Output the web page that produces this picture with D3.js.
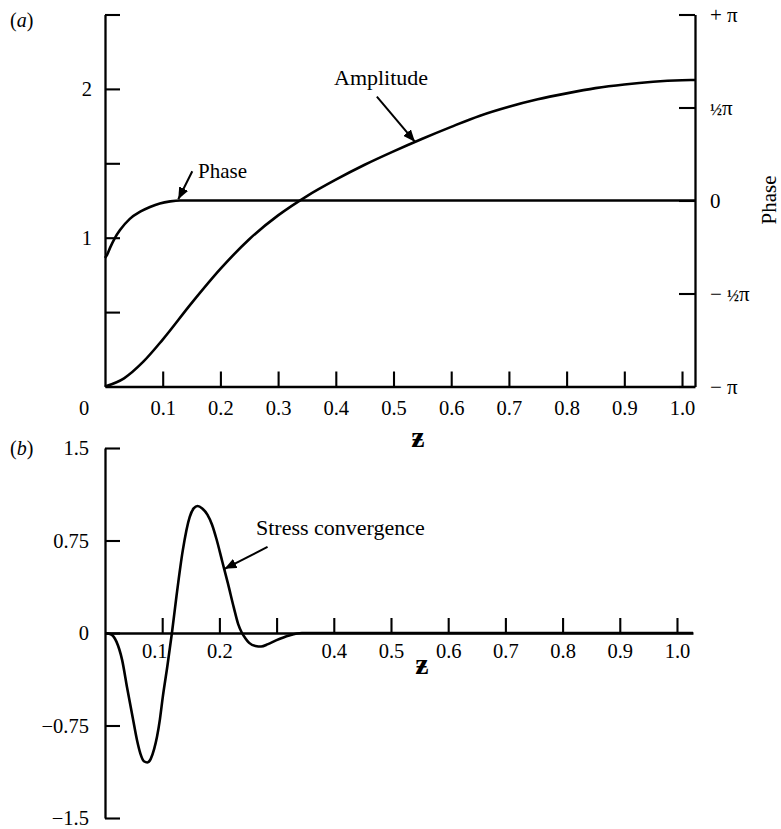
<!DOCTYPE html>
<html><head><meta charset="utf-8">
<script src="https://cdn.jsdelivr.net/npm/d3@7"></script>
<style>
body{margin:0;background:#fff}
svg{display:block;background:#fff}
text{font-family:"Liberation Serif","Times New Roman",serif;fill:#000}
</style>
</head><body>
<svg id="c" width="781" height="829"></svg>
<script>
// ---------- data ----------
const zAmp = [0, 0.033, 0.066, 0.1, 0.15, 0.2, 0.25, 0.3, 0.35, 0.4, 0.45, 0.5, 0.55, 0.6, 0.65, 0.7, 0.75, 0.8, 0.85, 0.9, 0.95, 1.0, 1.0225];
const amplitude = [0, 0.055, 0.165, 0.315, 0.56, 0.79, 0.99, 1.15, 1.28, 1.39, 1.49, 1.58, 1.665, 1.745, 1.82, 1.88, 1.93, 1.97, 2.005, 2.03, 2.048, 2.058, 2.06];

const zPhase = [0, 0.0035, 0.0087, 0.0173, 0.026, 0.043, 0.061, 0.078, 0.095, 0.113, 0.13, 0.5, 1.0225];
const phase = [-0.97, -0.92, -0.80, -0.63, -0.50, -0.31, -0.19, -0.11, -0.05, -0.015, 0, 0, 0];

const zStress = [0, 0.01, 0.02, 0.03, 0.0385, 0.049, 0.056, 0.062, 0.068, 0.074, 0.08, 0.086, 0.091, 0.096, 0.101, 0.109, 0.117, 0.125, 0.136, 0.148, 0.155, 0.162, 0.17, 0.179, 0.187, 0.195, 0.205, 0.215, 0.225, 0.233, 0.2395, 0.245, 0.252, 0.263, 0.273, 0.285, 0.299, 0.322, 0.344, 0.4, 1.028];
const stress = [0, -0.01, -0.07, -0.22, -0.44, -0.70, -0.87, -0.98, -1.04, -1.05, -1.02, -0.94, -0.84, -0.70, -0.52, -0.27, 0, 0.30, 0.67, 0.94, 1.01, 1.03, 1.01, 0.96, 0.88, 0.76, 0.58, 0.40, 0.21, 0.07, 0, -0.04, -0.08, -0.105, -0.11, -0.09, -0.06, -0.02, 0, 0, 0];

const xTicksA = [0.1, 0.2, 0.3, 0.4, 0.5, 0.6, 0.7, 0.8, 0.9, 1.0];
const xTickLabelsA = ["0.1", "0.2", "0.3", "0.4", "0.5", "0.6", "0.7", "0.8", "0.9", "1.0"];
const ampTicks = [0.5, 1, 1.5, 2, 2.5];
const ampTickLabels = ["", "1", "", "2", ""];
const phaseTicks = [-Math.PI, -Math.PI / 2, 0, Math.PI / 2, Math.PI];
const phaseTickLabels = ["−π", "−½π", "0", "½π", "+π"];
const xTicksB = [0.1, 0.2, 0.3, 0.4, 0.5, 0.6, 0.7, 0.8, 0.9, 1.0];
const xTickLabelsB = ["0.1", "0.2", "", "0.4", "0.5", "0.6", "0.7", "0.8", "0.9", "1.0"];
const stressTicks = [-1.5, -0.75, 0, 0.75, 1.5];
const stressTickLabels = ["−1.5", "−0.75", "0", "0.75", "1.5"];

// ---------- setup ----------
const svg = d3.select("#c");
const FONT = '"Liberation Serif","Times New Roman",serif';
const TICKFS = 20.5;

svg.append("defs").append("marker")
  .attr("id", "ah").attr("viewBox", "0 0 12 10").attr("refX", 12).attr("refY", 5)
  .attr("markerWidth", 12).attr("markerHeight", 10).attr("markerUnits", "userSpaceOnUse")
  .attr("orient", "auto")
  .append("path").attr("d", "M0,0 L12,5 L0,10 Z").attr("fill", "#000");

const xA = d3.scaleLinear().domain([0, 1.0225]).range([105, 695]);
const yAmp = d3.scaleLinear().domain([0, 2.5]).range([386.5, 14.5]);
const yPh = d3.scaleLinear().domain([-Math.PI, Math.PI]).range([386.5, 14.5]);
const xB = d3.scaleLinear().domain([0, 1.028]).range([105, 693]);
const yB = d3.scaleLinear().domain([-1.5, 1.5]).range([818, 448]);

function styleAxis(g, fs) {
  g.attr("font-family", FONT).attr("font-size", fs);
  g.select(".domain").attr("stroke", "#000").attr("stroke-width", 2.3);
  g.selectAll(".tick line").attr("stroke", "#000").attr("stroke-width", 2.1);
  g.selectAll(".tick text").attr("fill", "#000");
}

// ---------- panel (a) ----------
const gA = svg.append("g");

gA.append("g").attr("transform", "translate(0,386.5)")
  .call(d3.axisBottom(xA).tickValues(xTicksA).tickSize(-15).tickSizeOuter(0).tickPadding(14)
    .tickFormat((d, i) => xTickLabelsA[i]))
  .call(g => styleAxis(g, TICKFS));

gA.append("g").attr("transform", "translate(105,0)")
  .call(d3.axisLeft(yAmp).tickValues(ampTicks).tickSize(-15).tickSizeOuter(0).tickPadding(13)
    .tickFormat((d, i) => ampTickLabels[i]))
  .call(g => styleAxis(g, TICKFS));

gA.append("g").attr("transform", "translate(695,0)")
  .call(d3.axisRight(yPh).tickValues(phaseTicks).tickSize(-16).tickSizeOuter(0).tickFormat(""))
  .call(g => styleAxis(g, TICKFS));

// right-axis labels (one text element each; small ½)
phaseTicks.forEach((v, i) => {
  const lab = phaseTickLabels[i];
  const y = yPh(v);
  const t = gA.append("text").attr("x", 710).attr("y", y + 7).attr("font-size", 21);
  const m = lab.match(/^([−+]?)(½?)(.*)$/);
  if (m[1]) t.append("tspan").text(m[1] + " ");
  if (m[2]) t.append("tspan").attr("font-size", 16).attr("font-weight", "bold").text(m[2]);
  t.append("tspan").text(m[3]);
});

// corner zero
gA.append("text").attr("x", 84).attr("y", 415).attr("text-anchor", "middle").attr("font-size", TICKFS).text("0");

// curves
const lineAmp = d3.line().x((d, i) => xA(zAmp[i])).y(d => yAmp(d)).curve(d3.curveMonotoneX);
gA.append("path").attr("d", lineAmp(amplitude)).attr("fill", "none").attr("stroke", "#000").attr("stroke-width", 2.6);
const linePh = d3.line().x((d, i) => xA(zPhase[i])).y(d => yPh(d)).curve(d3.curveMonotoneX);
gA.append("path").attr("d", linePh(phase)).attr("fill", "none").attr("stroke", "#000").attr("stroke-width", 2.6);

// annotations
function arrow(g, tx, ty, dx, dy) {
  g.append("line").attr("x1", tx + dx).attr("y1", ty + dy).attr("x2", tx).attr("y2", ty)
    .attr("stroke", "#000").attr("stroke-width", 2).attr("marker-end", "url(#ah)");
}
arrow(gA, xA(0.537), yAmp(1.645), -38, -45);
gA.append("text").attr("x", 334).attr("y", 85).attr("font-size", 22).text("Amplitude");
arrow(gA, xA(0.127), yPh(0.02), 14, -28);
gA.append("text").attr("x", 198).attr("y", 178).attr("font-size", 21).text("Phase");

gA.append("text").attr("x", 10).attr("y", 27).attr("font-size", 20).html('(<tspan font-style="italic">a</tspan>)');
gA.append("text").attr("transform", "translate(776,200) rotate(-90)").attr("text-anchor", "middle")
  .attr("font-size", 21).text("Phase");
gA.append("text").attr("x", 418).attr("y", 447).attr("text-anchor", "middle").attr("font-size", 30)
  .attr("font-weight", "bold").attr("font-family", "DejaVu Sans").text("ƶ");

// ---------- panel (b) ----------
const gB = svg.append("g");
gB.append("g").attr("transform", `translate(0,${yB(0)})`)
  .call(d3.axisBottom(xB).tickValues(xTicksB).tickSize(-15).tickSizeOuter(0).tickPadding(10)
    .tickFormat((d, i) => xTickLabelsB[i]))
  .call(g => styleAxis(g, TICKFS))
  .call(g => g.selectAll(".tick text").filter(d => d === 0.1).attr("dx", -8));

gB.append("g").attr("transform", "translate(105,0)")
  .call(d3.axisLeft(yB).tickValues(stressTicks).tickSize(-15).tickSizeOuter(0).tickPadding(16)
    .tickFormat((d, i) => stressTickLabels[i]))
  .call(g => styleAxis(g, TICKFS));

const lineS = d3.line().x((d, i) => xB(zStress[i])).y(d => yB(d)).curve(d3.curveMonotoneX);
gB.append("path").attr("d", lineS(stress)).attr("fill", "none").attr("stroke", "#000").attr("stroke-width", 2.6);

arrow(gB, xB(0.209), yB(0.52), 43, -22);
gB.append("text").attr("x", 256).attr("y", 535).attr("font-size", 22).text("Stress convergence");

gB.append("text").attr("x", 10).attr("y", 455).attr("font-size", 20).html('(<tspan font-style="italic">b</tspan>)');
gB.append("text").attr("x", 422).attr("y", 674).attr("text-anchor", "middle").attr("font-size", 30)
  .attr("font-weight", "bold").attr("font-family", "DejaVu Sans").text("ƶ");
</script>
</body></html>
